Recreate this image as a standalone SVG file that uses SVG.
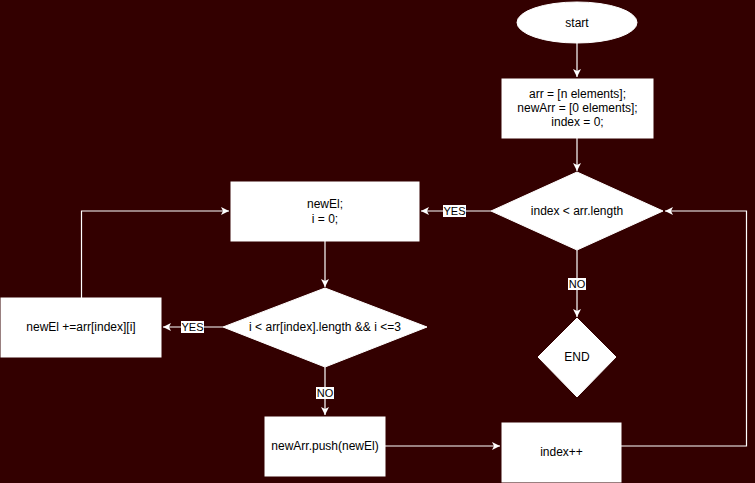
<svg xmlns="http://www.w3.org/2000/svg" width="755" height="483" viewBox="0 0 755 483">
<defs>
<marker id="arr" markerUnits="userSpaceOnUse" markerWidth="10" markerHeight="10" refX="8" refY="4" orient="auto">
<path d="M0,0 L8,4 L0,8 L2,4 Z" fill="#ffffff"/>
</marker>
<style>
.shape{fill:#ffffff;stroke:#ffffff;stroke-width:1}
.t{font-family:"Liberation Sans",Arial,sans-serif;font-size:12px;fill:#000000;text-anchor:middle;dominant-baseline:central}
.edge{fill:none;stroke:#ffffff;stroke-width:1.2}
.lbl{font-family:"Liberation Sans",Arial,sans-serif;font-size:11px;fill:#000000;text-anchor:middle;dominant-baseline:central}
.lblbg{fill:#ffffff}
</style>
</defs>
<rect x="0" y="0" width="755" height="483" fill="#330000"/>
<g id="connectors">
<path class="edge" d="M577,43 L577,77" marker-end="url(#arr)"/>
<path class="edge" d="M577,138 L577,171" marker-end="url(#arr)"/>
<path class="edge" d="M491,211 L421,211" marker-end="url(#arr)"/>
<path class="edge" d="M325,241 L325,287" marker-end="url(#arr)"/>
<path class="edge" d="M223,327 L163,327" marker-end="url(#arr)"/>
<path class="edge" d="M81.5,298 L81.5,211 L229,211" marker-end="url(#arr)"/>
<path class="edge" d="M325,367 L325,415" marker-end="url(#arr)"/>
<path class="edge" d="M385,446 L500,446" marker-end="url(#arr)"/>
<path class="edge" d="M621,446 L746.5,446 L746.5,211 L665,211" marker-end="url(#arr)"/>
<path class="edge" d="M577,250 L577,317" marker-end="url(#arr)"/>
<rect class="lblbg" x="443" y="205" width="23" height="12"/>
<text class="lbl" x="454.5" y="211">YES</text>
<rect class="lblbg" x="181" y="321" width="23" height="12"/>
<text class="lbl" x="192.5" y="327">YES</text>
<rect class="lblbg" x="316" y="387" width="18" height="12"/>
<text class="lbl" x="325" y="393">NO</text>
<rect class="lblbg" x="568" y="278" width="18" height="12"/>
<text class="lbl" x="577" y="284">NO</text>
</g>
<g id="start">
<ellipse class="shape" cx="577" cy="22.5" rx="60" ry="20.5"/>
<text class="t" x="577" y="22.5">start</text>
</g>
<g id="init">
<rect class="shape" x="502" y="79" width="151" height="59"/>
<text class="t" x="577.5" y="94">arr = [n elements];</text>
<text class="t" x="577.5" y="108">newArr = [0 elements];</text>
<text class="t" x="577.5" y="122">index = 0;</text>
</g>
<g id="cond1">
<path class="shape" d="M577,172 L663,211 L577,250 L491,211 Z"/>
<text class="t" x="577" y="211">index &lt; arr.length</text>
</g>
<g id="newel">
<rect class="shape" x="231" y="182" width="188" height="59"/>
<text class="t" x="325" y="204">newEl;</text>
<text class="t" x="325" y="219">i = 0;</text>
</g>
<g id="cond2">
<path class="shape" d="M325,288 L427,327 L325,367 L223,327 Z"/>
<text class="t" x="325" y="327">i &lt; arr[index].length &amp;&amp; i &lt;=3</text>
</g>
<g id="accum">
<rect class="shape" x="1" y="298" width="160" height="59"/>
<text class="t" x="81" y="327">newEl +=arr[index][i]</text>
</g>
<g id="push">
<rect class="shape" x="265" y="417" width="120" height="59"/>
<text class="t" x="325" y="446">newArr.push(newEl)</text>
</g>
<g id="incr">
<rect class="shape" x="502" y="423" width="119" height="59"/>
<text class="t" x="561.5" y="452">index++</text>
</g>
<g id="end">
<path class="shape" d="M577,318 L616,357 L577,397 L538,357 Z"/>
<text class="t" x="577" y="357">END</text>
</g>
</svg>
